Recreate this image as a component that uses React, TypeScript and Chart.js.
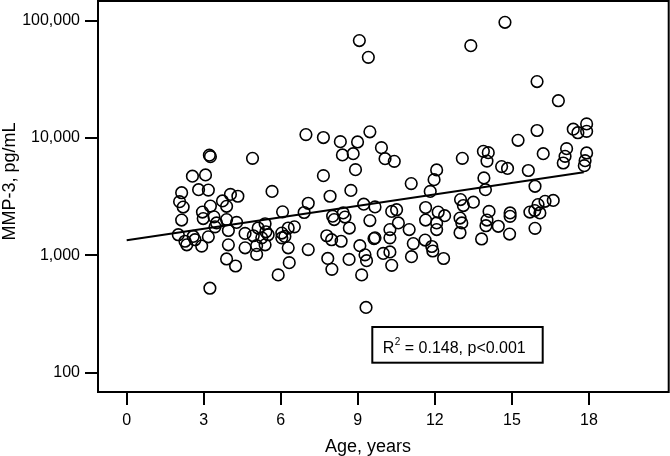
import React, { useEffect, useRef } from "react";
import { Chart, registerables } from "chart.js";
Chart.register(...registerables);

// Age in years of each subject
const ages = [
  3.22, 3.26, 2.56, 3.07, 2.14, 2.80, 3.18, 4.04, 4.33, 2.06, 2.20, 3.26, 3.73, 3.89, 2.95, 2.98, 3.40, 2.14, 3.89, 4.28,
  3.44, 3.50, 2.01, 2.59, 3.18, 3.96, 4.61, 4.93, 2.27, 2.34, 2.92, 3.96, 4.61, 5.06, 3.89, 4.24, 3.24, 5.06, 4.90, 2.66,
  6.98, 7.66, 8.32, 8.99, 9.47, 8.40, 8.82, 8.91, 7.66, 5.66, 7.92, 8.73, 7.07, 6.07, 6.91, 8.02, 8.43, 8.50, 9.23, 9.47,
  5.39, 5.12, 6.53, 6.29, 6.04, 8.67, 8.08, 5.51, 6.04, 6.16, 6.29, 7.79, 7.98, 8.35, 7.07, 6.33, 5.90, 7.83, 7.99, 8.66,
  9.08, 9.28, 9.34, 9.15, 9.63, 9.32, 9.06, 9.41, 5.26, 5.42, 5.39,
  9.92, 10.06, 10.42, 13.07, 13.89, 14.08, 14.03, 12.07, 11.97, 11.08, 11.82, 13.91, 13.97, 9.67, 10.32, 10.51, 11.64,
  12.13, 12.38, 13.00, 13.11, 13.50, 10.58, 11.64, 12.07, 12.98, 13.05, 14.11, 14.03, 13.99, 10.25, 11.00, 12.07, 12.98,
  9.67, 10.25, 11.16, 11.62, 13.82, 9.99, 10.25, 11.09, 11.88, 11.92, 12.34, 10.32, 14.47, 13.40,
  14.73, 15.98, 16.81, 15.98, 15.24, 17.39, 17.57, 17.91, 17.91, 16.22, 17.13, 17.07, 17.00, 17.91, 17.85, 17.82, 14.60,
  14.83, 15.64, 15.90, 16.61, 16.29, 16.02, 15.89, 15.70, 16.09, 14.93, 14.93, 15.90, 14.91,
];

// MMP-3 concentration, pg/mL
const mmp3 = [
  7150, 6940, 4730, 4850, 3420, 3630, 3600, 3310, 3190, 2870, 2580, 2630, 2910, 2620, 2340, 2060, 2130, 2000, 2020, 1910,
  1750, 1890, 1500, 1450, 1440, 1630, 1540, 1470, 1320, 1230, 1200, 1230, 1160, 1210, 932, 812, 525, 1020, 6710, 1360,
  10700, 10100, 9320, 9260, 11300, 7180, 7360, 5380, 4780, 3510, 3190, 3580, 2780, 2350, 2320, 2160, 2300, 2120, 2730, 1980,
  1860, 1710, 1750, 1710, 1550, 1710, 2020, 1500, 1410, 1450, 1160, 1470, 1360, 1320, 1120, 867, 682, 942, 760, 924,
  1210, 1010, 901, 682, 1390, 360, 67700, 48700, 1410, 1590, 1230,
  8280, 6670, 6330, 6710, 7700, 7510, 6360, 5350, 4420, 4090, 3510, 4570, 3630, 2590, 2370, 2450, 2560,
  2340, 2180, 2990, 2660, 2840, 1890, 2000, 1890, 2080, 1890, 2370, 2000, 1790, 1660, 1660, 1660, 1560,
  1410, 1410, 1260, 1350, 1380, 1040, 1070, 975, 1190, 1090, 941, 822, 1770, 61300,
  96900, 30300, 20800, 11600, 9560, 11900, 11100, 13200, 11400, 7360, 8120, 6980, 6130, 7460, 6420, 5820, 5710,
  5510, 5290, 3880, 2940, 2890, 2710, 2410, 2340, 2300, 2300, 2150, 1700, 1520,
];

// Regression line end points
const fitAges = [0, 17.8];
const fitValues = [1343, 5100];

const xTicks = [0, 3, 6, 9, 12, 15, 18];
const yTicks = [100, 1000, 10000, 100000];

const xTitle = "Age, years";
const yTitle = "MMP-3, pg/mL";
const statR2 = " = 0.148, p<0.001";

const FONT = '"Liberation Sans", Arial, Helvetica, sans-serif';

export default function App() {
  const ref = useRef<HTMLCanvasElement>(null);

  useEffect(() => {
    if (!ref.current) return;

    const decor = {
      id: "decor",
      afterDatasetsDraw(chart: any) {
        const { ctx, chartArea: a } = chart;
        ctx.save();
        ctx.strokeStyle = "#000";
        ctx.lineWidth = 2;
        ctx.strokeRect(a.left, a.top, a.right - a.left, a.bottom - a.top);

        ctx.fillStyle = "#000";
        ctx.font = `18px ${FONT}`;
        ctx.textAlign = "center";
        ctx.textBaseline = "alphabetic";
        ctx.fillText(xTitle, 368, 452);

        ctx.save();
        ctx.translate(15, 181.5);
        ctx.rotate(-Math.PI / 2);
        ctx.fillText(yTitle, 0, 0);
        ctx.restore();

        // statistics box
        ctx.fillStyle = "#fff";
        ctx.fillRect(372.3, 327, 170.4, 35.7);
        ctx.strokeRect(372.3, 327, 170.4, 35.7);
        ctx.fillStyle = "#000";
        ctx.textAlign = "left";
        ctx.font = `16px ${FONT}`;
        let x = 382.7;
        ctx.fillText("R", x, 352.7);
        x += ctx.measureText("R").width + 0.5;
        ctx.font = `10px ${FONT}`;
        ctx.fillText("2", x, 344.5);
        x += ctx.measureText("2").width;
        ctx.font = `16px ${FONT}`;
        ctx.fillText(statR2, x, 352.7);
        ctx.restore();
      },
    };

    const tickFont = { family: FONT, size: 16 };
    const chart = new Chart(ref.current, {
      type: "scatter",
      data: {
        datasets: [
          {
            type: "line",
            data: fitAges.map((a, i) => ({ x: a, y: fitValues[i] })),
            borderColor: "#000",
            borderWidth: 2,
            pointRadius: 0,
            showLine: true,
            fill: false,
          } as any,
          {
            type: "scatter",
            data: ages.map((a, i) => ({ x: a, y: mmp3[i] })),
            pointRadius: 5.8,
            pointHoverRadius: 5.8,
            borderWidth: 1.6,
            borderColor: "#000",
            backgroundColor: "rgba(0,0,0,0)",
          },
        ],
      },
      options: {
        animation: false,
        responsive: false,
        events: [],
        layout: { autoPadding: false, padding: { left: 0, top: 1, right: 1.3, bottom: 0 } },
        plugins: { legend: { display: false }, tooltip: { enabled: false } },
        scales: {
          x: {
            type: "linear",
            min: -1.117,
            max: 21.106,
            afterBuildTicks: (s: any) => {
              s.ticks = xTicks.map((v) => ({ value: v }));
            },
            afterFit: (s: any) => {
              s.height = 64;
              s.paddingLeft = 0;
              s.paddingRight = 0;
              s.paddingTop = 0;
              s.paddingBottom = 0;
            },
            ticks: { font: tickFont, color: "#000", padding: 6, maxRotation: 0, autoSkip: false },
            grid: { drawOnChartArea: false, drawTicks: true, tickLength: 13, color: "#000", lineWidth: 2 },
            border: { display: false },
          },
          y: {
            type: "logarithmic",
            min: 68.5,
            max: 147200,
            afterBuildTicks: (s: any) => {
              s.ticks = yTicks.map((v) => ({ value: v }));
            },
            afterFit: (s: any) => {
              s.width = 98;
              s.paddingLeft = 0;
              s.paddingRight = 0;
              s.paddingTop = 0;
              s.paddingBottom = 0;
            },
            ticks: {
              font: tickFont,
              color: "#000",
              padding: 5,
              autoSkip: false,
              callback: (v: any) => Number(v).toLocaleString("en-US"),
            },
            grid: { drawOnChartArea: false, drawTicks: true, tickLength: 13, color: "#000", lineWidth: 2 },
            border: { display: false },
          },
        },
      } as any,
      plugins: [decor],
    });
    return () => chart.destroy();
  }, []);

  return (
    <div style={{ position: "fixed", left: 0, top: 0, width: 670, height: 456, background: "#fff" }}>
      <canvas ref={ref} width={670} height={456} style={{ display: "block" }} />
    </div>
  );
}
